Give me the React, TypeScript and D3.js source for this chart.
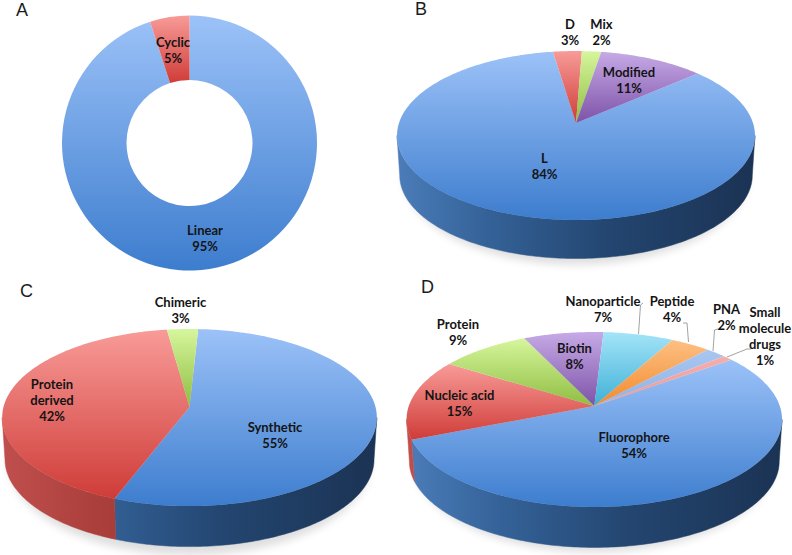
import React from "react";
import * as d3 from "d3";

// ---------- data ----------
const categoriesA = ["Linear", "Cyclic"];
const valuesA = [95, 5];
const categoriesB = ["L", "D", "Mix", "Modified"];
const valuesB = [84, 3, 2, 11];
const categoriesC = ["Synthetic", "Protein derived", "Chimeric"];
const valuesC = [55, 42, 3];
const categoriesD = ["Fluorophore", "Nucleic acid", "Protein", "Biotin", "Nanoparticle", "Peptide", "PNA", "Small molecule drugs"];
const valuesD = [54, 15, 9, 8, 7, 4, 2, 1];

// ---------- styles ----------
type Paint = { id: string; top: string; bottom: string; wall: string[] };
const paints: Paint[] = [
  { id: "blue", top: "#9cc2f8", bottom: "#3d7dce", wall: ["#4b7cb8", "#346298", "#23456f", "#1b3354"] },
  { id: "red", top: "#f89b98", bottom: "#cf3c38", wall: ["#bf4f4c", "#ab3f3c", "#952f2b", "#802824"] },
  { id: "green", top: "#d6f69c", bottom: "#8fbd42", wall: ["#9fc45a", "#86a845", "#6c8a33", "#5a7428"] },
  { id: "purple", top: "#c6aae6", bottom: "#7d52a8", wall: ["#8c68b0", "#6e4c92", "#583c76", "#48305f"] },
  { id: "cyan", top: "#a4e4f8", bottom: "#3eb0d6", wall: ["#4aa6c6", "#3a8aa6", "#2c7088", "#205a70"] },
  { id: "orange", top: "#fcc084", bottom: "#f38a2c", wall: ["#d88a40", "#b87030", "#985c24", "#7c4a1c"] },
  { id: "lblue", top: "#a9c6f2", bottom: "#8fb2e6", wall: ["#7f9cc8", "#6a86ae", "#566e90", "#465a78"] },
  { id: "pink", top: "#f5aeac", bottom: "#ec9a98", wall: ["#c98886", "#aa6e6c", "#8e5a58", "#744846"] },
];

const TAU = Math.PI * 2;

type Pie3D = {
  key: string;
  cats: string[];
  vals: number[];
  start: number; // deg clockwise from the far point
  cx: number; cy: number; rx: number; ry: number; k: number; depth: number;
};

const pieB: Pie3D = { key: "b", cats: categoriesB, vals: valuesB, start: 49, cx: 576, cy: 123, rx: 177, ry: 82.6, k: 0.148, depth: 40 };
const pieC: Pie3D = { key: "c", cats: categoriesC, vals: valuesC, start: 3, cx: 189.5, cy: 407, rx: 186, ry: 87.3, k: 0.119, depth: 42 };
const pieD: Pie3D = { key: "d", cats: categoriesD, vals: valuesD, start: 53.7, cx: 594.3, cy: 406, rx: 185.5, ry: 85.4, k: 0.154, depth: 42 };

// perspective projection of a point of the unit disc onto the page
function project(p: Pie3D, theta: number, lower = false): [number, number] {
  const u = Math.sin(theta);
  const v = Math.cos(theta);
  const w = 1 + p.k * v;
  const s = lower ? 0.985 : 1;
  return [p.cx + (s * p.rx * u) / w, p.cy - (s * p.ry * v) / w + (lower ? p.depth : 0)];
}

const line = d3.line();

function arcPoints(p: Pie3D, a0: number, a1: number, lower = false): [number, number][] {
  const n = Math.max(2, Math.ceil(((a1 - a0) * 180) / Math.PI));
  return d3.range(n + 1).map((i) => project(p, a0 + ((a1 - a0) * i) / n, lower));
}

function slices(p: Pie3D) {
  const a = (p.start * Math.PI) / 180;
  return d3.pie<number>().sort(null).startAngle(a).endAngle(a + TAU)(p.vals);
}

// the part of [a0,a1] on the near side, between the two silhouette angles of the projected disc
function wallRange(p: Pie3D, a0: number, a1: number): [number, number][] {
  const out: [number, number][] = [];
  const lo = Math.acos(-p.k);
  const hi = TAU - lo;
  for (const off of [0, TAU]) {
    const s = Math.max(a0, lo + off);
    const e = Math.min(a1, hi + off);
    if (e > s) out.push([s, e]);
  }
  return out;
}

const Pie: React.FC<{ p: Pie3D }> = ({ p }) => {
  const arcs = slices(p);
  const left = p.cx - p.rx;
  const right = p.cx + p.rx;
  return (
    <g>
      <ellipse
        cx={p.cx}
        cy={p.cy + p.depth + 14}
        rx={p.rx - 5}
        ry={p.ry + 5}
        fill="#000"
        opacity={0.13}
        filter="url(#soft)"
      />
      <defs>
        {paints.map((c) => (
          <linearGradient
            key={c.id}
            id={`wall-${p.key}-${c.id}`}
            gradientUnits="userSpaceOnUse"
            x1={left}
            x2={right}
            y1={0}
            y2={0}
          >
            <stop offset="0%" stopColor={c.wall[0]} />
            <stop offset="25%" stopColor={c.wall[1]} />
            <stop offset="60%" stopColor={c.wall[2]} />
            <stop offset="100%" stopColor={c.wall[3]} />
          </linearGradient>
        ))}
      </defs>
      {arcs.map((d, i) =>
        wallRange(p, d.startAngle, d.endAngle).map(([s, e], j) => {
          const pts = [...arcPoints(p, s, e), ...arcPoints(p, s, e, true).reverse()];
          const id = `url(#wall-${p.key}-${paints[i].id})`;
          return <path key={`${i}-${j}`} d={(line(pts) ?? "") + "Z"} fill={id} stroke={id} strokeWidth={0.5} />;
        })
      )}
      {arcs.map((d, i) => {
        const pts = [[p.cx, p.cy] as [number, number], ...arcPoints(p, d.startAngle, d.endAngle)];
        return <path key={i} d={(line(pts) ?? "") + "Z"} fill={`url(#top-${paints[i].id})`} />;
      })}
    </g>
  );
};

const Donut: React.FC = () => {
  const arcs = d3.pie<number>().sort(null)(valuesA);
  const arc = d3.arc<d3.PieArcDatum<number>>().innerRadius(63).outerRadius(127.5);
  return (
    <g transform="translate(189.5,143)">
      {arcs.map((d, i) => (
        <path key={categoriesA[i]} d={arc(d) ?? ""} fill={`url(#top-${paints[i].id})`} />
      ))}
    </g>
  );
};

// ---------- text layout ----------
const labels: { lines: string[]; x: number; y: number }[] = [
  { lines: ["Cyclic", "5%"], x: 173, y: 47 },
  { lines: ["Linear", "95%"], x: 205, y: 235 },
  { lines: ["D", "3%"], x: 570, y: 29 },
  { lines: ["Mix", "2%"], x: 601.5, y: 29 },
  { lines: ["Modified", "11%"], x: 629, y: 77 },
  { lines: ["L", "84%"], x: 544.5, y: 163 },
  { lines: ["Chimeric", "3%"], x: 180.5, y: 307 },
  { lines: ["Protein", "derived", "42%"], x: 52, y: 389 },
  { lines: ["Synthetic", "55%"], x: 275, y: 432 },
  { lines: ["Nanoparticle", "7%"], x: 603, y: 306 },
  { lines: ["Peptide", "4%"], x: 672, y: 306 },
  { lines: ["PNA", "2%"], x: 726.5, y: 314 },
  { lines: ["Small", "molecule", "drugs", "1%"], x: 765, y: 317 },
  { lines: ["Protein", "9%"], x: 458, y: 329 },
  { lines: ["Biotin", "8%"], x: 574.5, y: 353 },
  { lines: ["Nucleic acid", "15%"], x: 459.5, y: 400 },
  { lines: ["Fluorophore", "54%"], x: 634, y: 442 },
];

const panelLetters = [
  { t: "A", x: 16, y: 16 },
  { t: "B", x: 415, y: 15 },
  { t: "C", x: 20, y: 297 },
  { t: "D", x: 421, y: 293 },
];

const leaders: [number, number][][] = [
  [[638.5, 334], [640.5, 305], [643, 303]],
  [[688.5, 342], [687, 323], [683, 323]],
  [[713, 351], [714.5, 330], [718, 329]],
  [[727, 357], [747, 349], [751, 349]],
];

export default function App() {
  return (
    <svg
      width={792}
      height={555}
      style={{ position: "absolute", left: 0, top: 0, background: "#fff" }}
      fontFamily="Lato, 'Open Sans', sans-serif"
    >
      <defs>
        <filter id="soft" x="-20%" y="-20%" width="140%" height="140%">
          <feGaussianBlur stdDeviation="4" />
        </filter>
        {paints.map((c) => (
          <linearGradient key={c.id} id={`top-${c.id}`} x1="0" y1="0" x2="0" y2="1">
            <stop offset="0%" stopColor={c.top} />
            <stop offset="100%" stopColor={c.bottom} />
          </linearGradient>
        ))}
      </defs>
      <Donut />
      <Pie p={pieB} />
      <Pie p={pieC} />
      <Pie p={pieD} />
      {leaders.map((l, i) => (
        <path key={i} d={line(l) ?? ""} fill="none" stroke="#8a8a8a" strokeWidth={0.8} />
      ))}
      {labels.map((l, i) => (
        <text key={i} textAnchor="middle" fontSize={13} fontWeight={700} fill="#141414">
          {l.lines.map((s, j) => (
            <tspan key={j} x={l.x} y={l.y + j * 16}>
              {s}
            </tspan>
          ))}
        </text>
      ))}
      {panelLetters.map((p) => (
        <text key={p.t} x={p.x} y={p.y} textAnchor="start" fontFamily="'Liberation Sans', Arial, sans-serif" fontSize={18} fill="#1c1c1c">
          {p.t}
        </text>
      ))}
    </svg>
  );
}
